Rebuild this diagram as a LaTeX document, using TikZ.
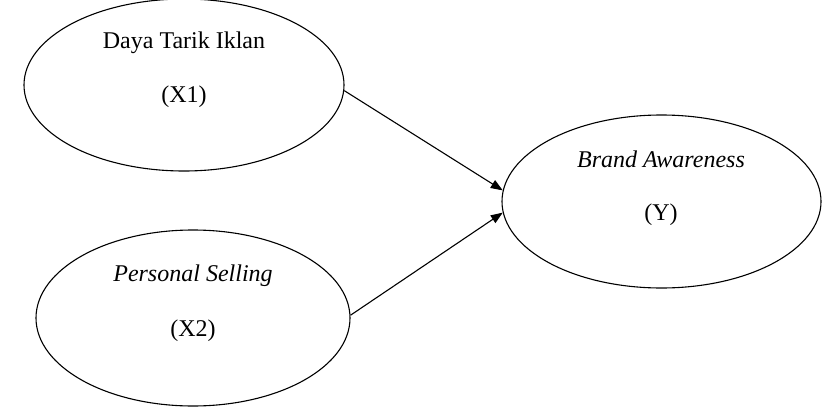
\documentclass[tikz,border=0pt]{standalone}
\usepackage{fontspec}
\setmainfont{Liberation Serif}
\usetikzlibrary{shapes.geometric,arrows.meta}
\begin{document}
\begin{tikzpicture}[x=1pt,y=-1pt,
  var/.style={draw, ellipse, line width=1.1pt, inner sep=0pt},
  lbl/.style={font=\fontsize{24}{28}\selectfont, inner sep=0pt},
  link/.style={line width=1.1pt, -{Triangle[length=12pt,width=9pt]}}]
\useasboundingbox (0,0) rectangle (822,412);
\node[var, minimum width=320pt, minimum height=172pt] (e1) at (184,85) {};
\node[var, minimum width=314pt, minimum height=176pt] (e2) at (193,318) {};
\node[var, minimum width=319pt, minimum height=173pt] (e3) at (661.5,201.5) {};
\node[lbl] (t1) at (184,43) {Daya Tarik Iklan};
\node[lbl] (t1b) at (184,97) {(X1)};
\node[lbl] (t2) at (193,276) {\itshape Personal Selling};
\node[lbl] (t2b) at (193,331) {(X2)};
\node[lbl] (t3) at (661,159) {\itshape Brand Awareness};
\node[lbl] (t3b) at (661,215) {(Y)};
\draw[link] (e1.-2.5) -- (e3.176.5);
\draw[link] (e2.1.5) -- (e3.184);
\end{tikzpicture}
\end{document}
